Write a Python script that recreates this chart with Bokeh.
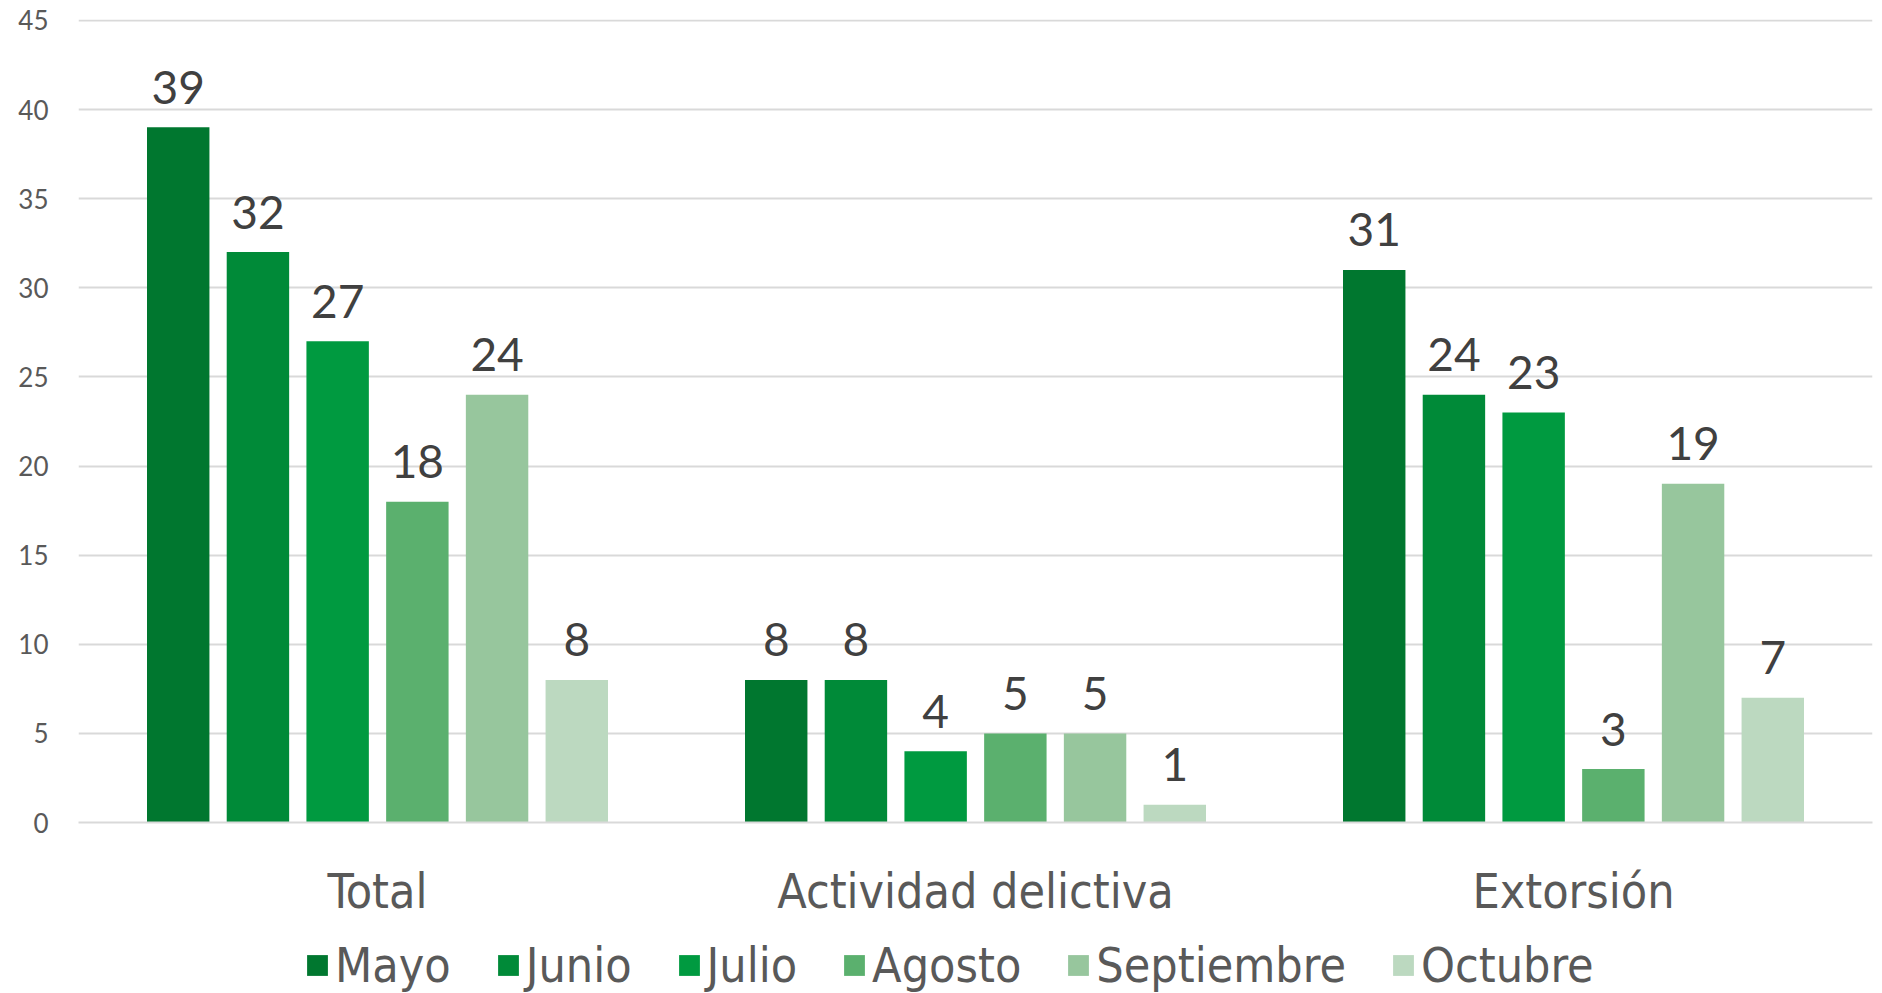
from bokeh.plotting import figure
from bokeh.models import ColumnDataSource, FactorRange, Range1d, Legend, LegendItem, SingleIntervalTicker
from bokeh.layouts import column
from bokeh.transform import dodge
from bokeh.core.properties import value
from bokeh.embed import file_html
from bokeh.resources import INLINE

categories = ["Total", "Actividad delictiva", "Extorsión"]
months = ["Mayo", "Junio", "Julio", "Agosto", "Septiembre", "Octubre"]
mayo = [39, 8, 31]
junio = [32, 8, 24]
julio = [27, 4, 23]
agosto = [18, 5, 3]
septiembre = [24, 5, 19]
octubre = [8, 1, 7]
series = [mayo, junio, julio, agosto, septiembre, octubre]
colors = ["#00772F", "#008A38", "#009A40", "#5BB06E", "#97C69D", "#BCD9C0"]

NARROW = "'DejaVu Sans Condensed', 'Liberation Sans Narrow', Roboto, sans-serif"

data = {"cat": categories}
for m, s in zip(months, series):
    data[m] = s
    data[m + "_lbl"] = [str(v) for v in s]
source = ColumnDataSource(data)

p = figure(x_range=FactorRange(*categories), y_range=Range1d(0, 45.05),
           width=1880, height=930, output_backend="svg", toolbar_location=None,
           min_border_left=78, min_border_right=8, min_border_top=19, min_border_bottom=108)
p.outline_line_color = None
p.background_fill_color = "white"
p.border_fill_color = "white"

step = 0.1333
bw = 0.1044
for i, (m, c) in enumerate(zip(months, colors)):
    off = (i - 2.5) * step
    p.vbar(x=dodge("cat", off, range=p.x_range), top=m, width=bw, source=source,
           fill_color=c, line_color=None)
    p.text(x=dodge("cat", off, range=p.x_range), y=m, text=m + "_lbl", source=source,
           text_align="center", text_baseline="alphabetic", y_offset=-40,
           text_font=value("Lato"), text_font_size="46px", text_color="#404040")

# axes
p.yaxis.ticker = SingleIntervalTicker(interval=5)
p.yaxis.axis_line_color = None
p.yaxis.major_tick_line_color = None
p.yaxis.minor_tick_line_color = None
p.yaxis.major_label_standoff = 24
p.yaxis.major_label_text_font = "Lato"
p.yaxis.major_label_text_font_size = "26px"
p.yaxis.major_label_text_color = "#595959"

p.xaxis.axis_line_color = "#D9D9D9"
p.xaxis.axis_line_width = 2
p.xaxis.major_tick_line_color = None
p.xaxis.minor_tick_line_color = None
p.xaxis.major_label_standoff = 34
p.xaxis.major_label_text_font = NARROW
p.xaxis.major_label_text_font_size = "48px"
p.xaxis.major_label_text_color = "#595959"

p.xgrid.grid_line_color = None
p.ygrid.grid_line_color = "#D9D9D9"
p.ygrid.grid_line_width = 2

# legend strip (a separate, axis-less figure holding only the legend)
lg = figure(width=1880, height=63, output_backend="svg", toolbar_location=None,
            x_range=Range1d(0, 1), y_range=Range1d(0, 1),
            x_axis_location=None, y_axis_location=None,
            min_border_left=0, min_border_right=0, min_border_top=0, min_border_bottom=0)
lg.grid.visible = False
lg.outline_line_color = None
items = []
for m, c in zip(months, colors):
    # zero-size swatch renderer: it only provides the legend colour
    r = lg.vbar(x=[0.5], top=[0], bottom=0, width=0, fill_color=c, line_color=None)
    items.append(LegendItem(label=m, renderers=[r]))
legend = Legend(items=items, orientation="horizontal", location=(226, 0),
                glyph_width=26, glyph_height=26, label_standoff=5, spacing=44,
                padding=0, margin=0, border_line_color=None,
                label_text_font=NARROW, label_text_font_size="48px",
                label_text_color="#595959", background_fill_alpha=0)
lg.add_layout(legend)

open("out.html", "w").write(file_html(column(p, lg, spacing=0), INLINE))
